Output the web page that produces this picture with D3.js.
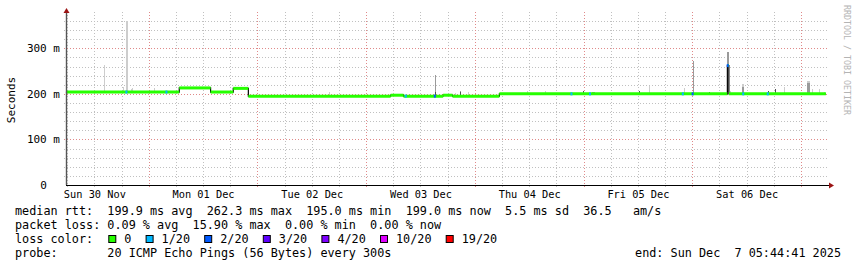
<!DOCTYPE html>
<html>
<head>
<meta charset="utf-8">
<script src="https://cdn.jsdelivr.net/npm/d3@7"></script>
<style>
  body { margin: 0; background: #fff; }
  svg { display: block; }
  text { font-family: "DejaVu Sans Mono", monospace; fill: #000; }
</style>
</head>
<body>
<div id="chart"></div>
<script>
/******** data ********/
var rangeStart = "2025-11-30T05:44:41";
var rangeEnd = "2025-12-07T05:44:41";

// median rtt, step changes (ms)
var medianTimes = ["2025-11-30T05:44", "2025-12-01T06:45", "2025-12-01T13:40", "2025-12-01T18:40",
  "2025-12-01T22:00", "2025-12-03T05:25", "2025-12-03T08:15", "2025-12-03T17:00", "2025-12-03T19:05",
  "2025-12-04T05:25", "2025-12-06T07:45", "2025-12-06T08:05", "2025-12-07T05:30"];
var medianMs = [204, 213, 204, 212, 195, 197, 195, 197, 195, 200, 262, 200, 200];

// samples with packet loss (lost pings out of 20)
var lossTimes = ["2025-11-30T19:05", "2025-12-01T03:55", "2025-12-03T08:45", "2025-12-03T15:10",
  "2025-12-04T21:20", "2025-12-05T01:25", "2025-12-05T21:55", "2025-12-06T00:05", "2025-12-06T07:50",
  "2025-12-06T11:15", "2025-12-06T16:40"];
var lossCount = [1, 1, 1, 2, 1, 1, 1, 2, 2, 1, 1];

// smoke spikes: time, length (min), max ping, upper quartile, dense part (ms, 0 = none)
var smokeTimes = ["2025-11-30T14:10", "2025-11-30T18:25", "2025-11-30T19:00", "2025-11-30T20:00",
  "2025-11-30T20:25", "2025-12-01T01:15", "2025-12-02T15:50", "2025-12-03T15:10", "2025-12-03T19:35",
  "2025-12-03T20:50", "2025-12-03T22:35", "2025-12-04T11:25", "2025-12-04T15:30", "2025-12-04T23:55",
  "2025-12-05T01:55", "2025-12-05T12:15", "2025-12-05T14:30", "2025-12-05T22:10", "2025-12-06T00:10",
  "2025-12-06T03:45", "2025-12-06T07:45", "2025-12-06T08:25", "2025-12-06T11:05", "2025-12-06T16:40",
  "2025-12-06T18:15", "2025-12-06T20:15", "2025-12-07T01:25", "2025-12-07T02:30", "2025-12-07T04:05",
  "2025-12-07T05:00"];
var smokeLen = [13, 13, 30, 13, 13, 13, 13, 13, 13, 13, 13, 13, 13, 13, 35, 13, 13, 13, 13, 13,
  26, 13, 26, 13, 13, 13, 40, 13, 13, 13];
var smokeMax = [263, 216, 360, 211, 212, 213, 203, 241, 201, 207, 203, 206, 207, 207, 205, 206, 217,
  212, 271, 205, 292, 206, 221, 207, 211, 216, 228, 211, 211, 204];
var smokeMid = [0, 0, 0, 0, 0, 0, 0, 241, 0, 207, 0, 0, 0, 207, 205, 206, 0, 0, 271, 205, 292, 0,
  216, 207, 211, 0, 223, 0, 0, 0];
var smokeDense = [0, 0, 0, 0, 0, 0, 0, 203, 0, 205, 0, 0, 0, 207, 0, 206, 0, 0, 0, 205, 0, 0, 0,
  207, 211, 0, 0, 0, 0, 0];

var yGridMinor = [20, 40, 60, 80, 120, 140, 160, 180, 220, 240, 260, 280, 320, 340, 360];
var yGridMajor = [100, 200, 300];
var yLabels = [0, 100, 200, 300];

var lossLevels = ["0", "1/20", "2/20", "3/20", "4/20", "10/20", "19/20"];
var lossLevelMin = [0, 1, 2, 3, 4, 10, 19];
var lossColors = ["#26ff00", "#00b8ff", "#0059ff", "#5e00ff", "#7e00ff", "#dd00ff", "#ff0000"];

var legendRtt = "median rtt:  199.9 ms avg  262.3 ms max  195.0 ms min  199.0 ms now  5.5 ms sd  36.5   am/s";
var legendLoss = "packet loss: 0.09 % avg  15.90 % max  0.00 % min  0.00 % now";
var legendProbe = "probe:       20 ICMP Echo Pings (56 Bytes) every 300s";
var legendEnd = "end: Sun Dec  7 05:44:41 2025";

/******** setup ********/
var W = 857, H = 267;
var pL = 66, pR = 827, pT = 12, pB = 185;

var parse = function(s) { return new Date(s + (s.length == 16 ? ":00Z" : "Z")); };
var t0 = parse(rangeStart), t1 = parse(rangeEnd);

var x = d3.scaleUtc().domain([t0, t1]).range([pL, pR]);
var y = d3.scaleLinear().domain([0, 379.6]).range([pB, pT]);

var svg = d3.select("#chart").append("svg").attr("width", W).attr("height", H);

// time ticks
var midnights = d3.utcDay.range(t0, t1);
var quarterDays = d3.utcHour.every(6).range(t0, t1).filter(function(d) { return d.getUTCHours() != 0; });
var noons = d3.utcHour.every(12).range(t0, t1).filter(function(d) { return d.getUTCHours() == 12; });

/******** grid ********/
function gridStyle(sel, color) {
  sel.select(".domain").remove();
  sel.selectAll(".tick line").attr("stroke", color).attr("stroke-dasharray", "1,2")
    .attr("shape-rendering", "crispEdges");
}

svg.append("g").attr("transform", "translate(" + (pL - 2) + ",0)")
  .call(d3.axisLeft(y).tickValues(yGridMinor).tickSize(-(pR - pL + 4)).tickFormat(""))
  .call(gridStyle, "#c0c0c0");
svg.append("g").attr("transform", "translate(0," + (pB + 2) + ")")
  .call(d3.axisBottom(x).tickValues(quarterDays).tickSize(-(pB - pT + 2)).tickFormat(""))
  .call(gridStyle, "#c0c0c0");
svg.append("g").attr("transform", "translate(" + (pL - 2) + ",0)")
  .call(d3.axisLeft(y).tickValues(yGridMajor).tickSize(-(pR - pL + 4)).tickFormat(""))
  .call(gridStyle, "#e08a8a");
svg.append("g").attr("transform", "translate(0," + (pB + 2) + ")")
  .call(d3.axisBottom(x).tickValues(midnights).tickSize(-(pB - pT + 2)).tickFormat(""))
  .call(gridStyle, "#e08a8a");

/******** data marks ********/
var mTimes = medianTimes.map(parse);
var bis = d3.bisector(function(d) { return d; }).right;
function medianAt(t) {
  var i = Math.max(0, bis(mTimes, t) - 1);
  return medianMs[i];
}

// smoke
var smoke = svg.append("g").attr("shape-rendering", "crispEdges");
var smokeShades = [["max", smokeMax, "#cdcdcd"], ["mid", smokeMid, "#9a9a9a"], ["dense", smokeDense, "#505050"]];
smokeShades.forEach(function(s) {
  smokeTimes.forEach(function(ts, i) {
    var v = s[1][i];
    var t = parse(ts);
    var m = medianAt(t);
    if (v <= m) return;
    var xa = Math.round(x(t)), xb = Math.round(x(d3.utcMinute.offset(t, smokeLen[i])));
    smoke.append("rect")
      .attr("x", xa).attr("width", Math.max(1, xb - xa))
      .attr("y", y(v)).attr("height", y(m) - y(v))
      .attr("fill", s[2]);
  });
});

// black step line
var steps = mTimes.map(function(t, i) { return [t, medianMs[i]]; });
svg.append("path")
  .attr("d", d3.line().x(function(d) { return x(d[0]); }).y(function(d) { return y(d[1]); })
    .curve(d3.curveStepAfter)(steps))
  .attr("fill", "none").attr("stroke", "#000").attr("stroke-width", 1.2);

// green segments
for (var i = 0; i < mTimes.length - 1; i++) {
  svg.append("line")
    .attr("x1", x(mTimes[i])).attr("x2", x(mTimes[i + 1]))
    .attr("y1", y(medianMs[i])).attr("y2", y(medianMs[i]))
    .attr("stroke", lossColors[0]).attr("stroke-width", 3);
}

// loss colored samples
lossTimes.forEach(function(ts, i) {
  var t = parse(ts);
  var lvl = d3.bisectRight(lossLevelMin, lossCount[i]) - 1;
  var cx = x(t);
  svg.append("line")
    .attr("x1", cx - 1).attr("x2", cx + 1)
    .attr("y1", y(medianAt(t))).attr("y2", y(medianAt(t)))
    .attr("stroke", lossColors[lvl]).attr("stroke-width", 3);
});

/******** axes ********/
var fmtY = function(d) { return d == 0 ? "0\u00a0\u00a0" : d / 100 + "00 m"; };
var yAx = svg.append("g").attr("transform", "translate(" + pL + ",0)")
  .call(d3.axisLeft(y).tickValues(yLabels).tickSize(0).tickPadding(6).tickFormat(fmtY));
yAx.select(".domain").remove();
yAx.selectAll("text").style("font-size", "11px").attr("font-family", null);

var xAx = svg.append("g").attr("transform", "translate(0," + pB + ")")
  .call(d3.axisBottom(x).tickValues(noons).tickSize(0).tickFormat(d3.utcFormat("%a %d %b")));
xAx.select(".domain").remove();
xAx.selectAll("text").attr("y", 13).attr("dy", null).style("font-size", "10.3px").attr("font-family", null);

svg.append("line").attr("x1", pL).attr("x2", pR + 2).attr("y1", pB + 0.5).attr("y2", pB + 0.5)
  .attr("stroke", "#000");
svg.append("line").attr("x1", pL + 0.5).attr("x2", pL + 0.5).attr("y1", pB).attr("y2", pT - 1)
  .attr("stroke", "#555").attr("stroke-width", 1.4);
svg.append("path").attr("d", "M" + (pL + 0.5) + "," + (pT - 4) + "l-3,5h6z").attr("fill", "#9b1414");
svg.append("path").attr("d", "M" + (pR + 7) + "," + (pB + 0.5) + "l-5,-3v6z").attr("fill", "#9b1414");

svg.append("text").attr("transform", "translate(15,100) rotate(-90)")
  .attr("text-anchor", "middle").style("font-size", "11px").text("Seconds");
svg.append("text").attr("transform", "translate(844,5) rotate(90)")
  .style("font-size", "8.3px").style("fill", "#b4b4b4").text("RRDTOOL / TOBI OETIKER");

/******** legend ********/
var lx = 15, cw = 7.1;
function legendLine(str, yy) {
  svg.append("text").attr("x", lx).attr("y", yy).attr("xml:space", "preserve")
    .style("font-size", "11.8px").style("white-space", "pre").text(str);
}
legendLine(legendRtt, 215);
legendLine(legendLoss, 229);
legendLine("loss color:", 243);
legendLine(legendProbe, 257);
svg.append("text").attr("x", 841).attr("y", 257).attr("text-anchor", "end")
  .style("font-size", "11.8px").style("white-space", "pre").text(legendEnd);

var bx = lx + 13 * cw + 1;
lossLevels.forEach(function(lab, i) {
  svg.append("rect").attr("x", bx + 0.5).attr("y", 235.5).attr("width", 7).attr("height", 7)
    .attr("fill", lossColors[i]).attr("stroke", "#000");
  svg.append("text").attr("x", bx + 16).attr("y", 243).style("font-size", "11.8px").text(lab);
  bx += 16 + (lab.length + 2) * cw;
});
</script>
</body>
</html>
